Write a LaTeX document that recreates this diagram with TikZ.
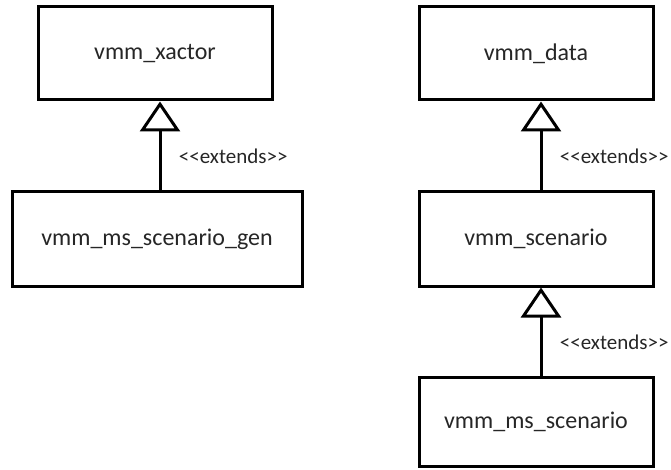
\documentclass[tikz,border=0pt]{standalone}
\usepackage{fontspec}
\setmainfont{Carlito}
\usetikzlibrary{arrows.meta}

\newcommand{\extlabel}{{<}{<}extends{>}{>}}

\begin{document}
\begin{tikzpicture}[x=1pt, y=-1pt, line width=3pt, line join=miter,
    font=\fontsize{24}{27}\selectfont,
    cls/.style={draw, minimum width=234pt, minimum height=93pt, inner sep=0pt, text=black!85},
    ext/.style={-{Triangle[open, length=30pt, width=40pt]}},
    stereo/.style={font=\fontsize{21}{24}\selectfont, anchor=west, text=black!85}]
    \useasboundingbox (0,0) rectangle (671,470);
    % left hierarchy
    \node[cls] (xactor) at (155,53.5) {vmm\_xactor};
    \node[cls, minimum width=290pt, minimum height=94pt] (gen) at (157,239) {vmm\_ms\_scenario\_gen};
    % right hierarchy
    \node[cls] (data) at (536,53.5) {vmm\_data};
    \node[cls, minimum height=94pt] (scen) at (536,239) {vmm\_scenario};
    \node[cls, minimum height=89pt] (msscen) at (536,421.5) {vmm\_ms\_scenario};

    \draw[ext] ([xshift=3pt]gen.north) -- ([xshift=5pt]xactor.south)
        node[stereo, pos=0.38, xshift=14pt] {\extlabel};
    \draw[ext] ([xshift=5pt]scen.north) -- ([xshift=5pt]data.south)
        node[stereo, pos=0.38, xshift=14pt] {\extlabel};
    \draw[ext] ([xshift=5pt]msscen.north) -- ([xshift=5pt]scen.south)
        node[stereo, pos=0.38, xshift=14pt] {\extlabel};
\end{tikzpicture}
\end{document}
